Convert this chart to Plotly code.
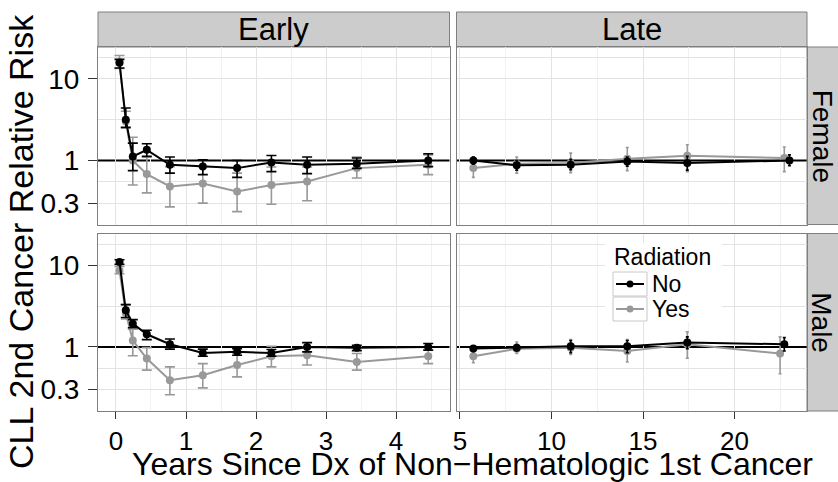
import plotly.graph_objects as go

# ---------------- data ----------------
x_early = [0.05, 0.14, 0.24, 0.44, 0.77, 1.24, 1.73, 2.22, 2.73, 3.44, 4.46]

F_early_no = [15.7, 3.16, 1.12, 1.35, 0.885, 0.84, 0.805, 0.945, 0.885, 0.91, 1.0]
F_early_no_lo = [13.6, 2.54, 0.75, 1.12, 0.70, 0.67, 0.62, 0.73, 0.69, 0.80, 0.84]
F_early_no_hi = [17.3, 4.4, 1.63, 1.6, 1.1, 1.02, 1.0, 1.15, 1.1, 1.07, 1.21]

F_early_yes = [16.0, 3.0, 1.0, 0.68, 0.48, 0.52, 0.416, 0.50, 0.552, 0.805, 0.885]
F_early_yes_lo = [13.4, 2.5, 0.50, 0.40, 0.27, 0.30, 0.236, 0.29, 0.32, 0.61, 0.67]
F_early_yes_hi = [19.3, 4.0, 1.92, 1.1, 0.84, 0.84, 0.70, 0.83, 0.83, 1.1, 1.17]

M_early_no = [11.0, 2.81, 1.93, 1.43, 1.08, 0.845, 0.87, 0.845, 1.0, 0.98, 1.0]
M_early_no_lo = [10.3, 2.29, 1.72, 1.23, 0.94, 0.77, 0.79, 0.77, 0.87, 0.90, 0.91]
M_early_no_hi = [11.7, 3.3, 2.16, 1.6, 1.25, 0.94, 0.95, 0.93, 1.13, 1.05, 1.1]

M_early_yes = [8.67, 2.6, 1.2, 0.72, 0.39, 0.45, 0.60, 0.77, 0.79, 0.655, 0.77]
M_early_yes_lo = [7.9, 2.2, 0.78, 0.52, 0.26, 0.315, 0.43, 0.57, 0.60, 0.52, 0.625]
M_early_yes_hi = [9.7, 3.3, 1.65, 0.98, 0.57, 0.625, 0.845, 1.02, 1.0, 0.83, 0.93]

x_F_late_no = [5.73, 8.10, 11.05, 14.14, 17.42, 23.0]
F_late_no = [1.0, 0.87, 0.885, 0.97, 0.93, 1.0]
F_late_no_lo = [0.90, 0.76, 0.77, 0.85, 0.76, 0.86]
F_late_no_hi = [1.1, 1.0, 1.03, 1.1, 1.12, 1.17]

x_F_late_yes = [5.73, 8.10, 11.05, 14.14, 17.42, 22.72]
F_late_yes = [0.805, 0.91, 0.93, 1.05, 1.14, 1.07]
F_late_yes_lo = [0.62, 0.70, 0.71, 0.75, 0.73, 0.73]
F_late_yes_hi = [1.04, 1.1, 1.23, 1.44, 1.56, 1.46]

x_M_late_no = [5.73, 8.10, 11.05, 14.14, 17.42, 22.72]
M_late_no = [0.954, 0.98, 1.02, 1.02, 1.13, 1.08]
M_late_no_lo = [0.88, 0.90, 0.85, 0.85, 0.95, 0.89]
M_late_no_hi = [1.03, 1.07, 1.2, 1.2, 1.33, 1.3]

x_M_late_yes = [5.73, 8.10, 11.05, 14.14, 17.42, 22.49]
M_late_yes = [0.77, 0.95, 0.98, 0.89, 1.08, 0.83]
M_late_yes_lo = [0.64, 0.83, 0.81, 0.655, 0.73, 0.47]
M_late_yes_hi = [0.89, 1.15, 1.23, 1.23, 1.53, 1.33]

y_ticks = [0.3, 1, 10]
y_tick_labels = ["0.3", "1", "10"]
y_grid = [0.3, 0.548, 3.162, 10, 18.25]   # 1 is covered by the reference line
x_ticks_early = [0, 1, 2, 3, 4]
x_minor_early = [0.5, 1.5, 2.5, 3.5, 4.5]
x_ticks_late = [5, 10, 15, 20]
x_minor_late = [7.5, 12.5, 17.5, 22.5]

legend_title = "Radiation"
series_names = ["No", "Yes"]
series_colors = {"No": "#000000", "Yes": "#999999"}

# ---------------- geometry helpers ----------------
W, H = 838, 482
def fx(px):
    return px / W
def fy(py):
    return 1 - py / H

FONT = "Liberation Sans, Arial, Helvetica, sans-serif"

fig = go.Figure()

def add_series(xv, yv, lo, hi, name, xa, ya, capw):
    col = series_colors[name]
    fig.add_trace(go.Scatter(
        x=xv, y=yv, xaxis=xa, yaxis=ya, mode="lines+markers",
        name=name, showlegend=False,
        line=dict(color=col, width=2),
        marker=dict(color=col, size=8),
        error_y=dict(type="data", symmetric=False,
                     array=[h - v for h, v in zip(hi, yv)],
                     arrayminus=[v - l for v, l in zip(yv, lo)],
                     color=col, thickness=1.6, width=capw),
        cliponaxis=False,
    ))

# gray (Yes) first so black (No) is drawn on top
add_series(x_early, F_early_yes, F_early_yes_lo, F_early_yes_hi, "Yes", "x", "y", 5)
add_series(x_early, F_early_no, F_early_no_lo, F_early_no_hi, "No", "x", "y", 5)
add_series(x_F_late_yes, F_late_yes, F_late_yes_lo, F_late_yes_hi, "Yes", "x2", "y2", 1.5)
add_series(x_F_late_no, F_late_no, F_late_no_lo, F_late_no_hi, "No", "x2", "y2", 1.5)
add_series(x_early, M_early_yes, M_early_yes_lo, M_early_yes_hi, "Yes", "x3", "y3", 5)
add_series(x_early, M_early_no, M_early_no_lo, M_early_no_hi, "No", "x3", "y3", 5)
add_series(x_M_late_yes, M_late_yes, M_late_yes_lo, M_late_yes_hi, "Yes", "x4", "y4", 1.5)
add_series(x_M_late_no, M_late_no, M_late_no_lo, M_late_no_hi, "No", "x4", "y4", 1.5)

# panel domains (pixels)
LX = (98, 449.5)
RX = (456.5, 807)
TY = (47, 224.5)
BY = (233.5, 411)

GRID = "#E3E3E3"
MINOR = "#F1F1F1"
BORDER = "#7F7F7F"
TICKSIZE = 26

def xaxis(dom, rng, ticks, minor, labels, anchor):
    return dict(
        domain=[fx(dom[0]), fx(dom[1])], range=rng, anchor=anchor,
        tickmode="array", tickvals=ticks, ticktext=[str(t) for t in ticks],
        showticklabels=labels, ticks="outside" if labels else "",
        ticklen=7, tickwidth=1, tickcolor="#333333",
        tickfont=dict(family=FONT, size=TICKSIZE, color="#000000"),
        showgrid=True, gridcolor=GRID, gridwidth=1,
        minor=dict(tickmode="array", tickvals=minor, showgrid=True, gridcolor=MINOR, gridwidth=1, ticks=""),
        showline=True, mirror=True, linecolor=BORDER, linewidth=1,
        zeroline=False, automargin=False,
    )

def yaxis(dom, labels, anchor):
    return dict(
        domain=[fy(dom[1]), fy(dom[0])], type="log", range=[-0.785, 1.39], anchor=anchor,
        tickmode="array", tickvals=y_ticks, ticktext=y_tick_labels,
        showticklabels=labels, ticks="outside" if labels else "",
        ticklen=9, tickwidth=1, tickcolor="#333333", ticklabelstandoff=3,
        tickfont=dict(family=FONT, size=TICKSIZE + 2, color="#000000"),
        showgrid=False,
        minor=dict(tickmode="array", tickvals=y_grid, showgrid=True, gridcolor=GRID, gridwidth=1, ticks=""),
        showline=True, mirror=True, linecolor=BORDER, linewidth=1,
        zeroline=False, automargin=False,
    )

rng_early = [-0.257, 4.764]
rng_late = [4.81, 23.96]

fig.update_layout(
    width=W, height=H, margin=dict(l=0, r=0, t=0, b=0, autoexpand=False),
    paper_bgcolor="white", plot_bgcolor="white",
    font=dict(family=FONT, color="#000000"),
    xaxis=xaxis(LX, rng_early, x_ticks_early, x_minor_early, False, "y"),
    xaxis2=xaxis(RX, rng_late, x_ticks_late, x_minor_late, False, "y2"),
    xaxis3=xaxis(LX, rng_early, x_ticks_early, x_minor_early, True, "y3"),
    xaxis4=xaxis(RX, rng_late, x_ticks_late, x_minor_late, True, "y4"),
    yaxis=yaxis(TY, True, "x"),
    yaxis2=yaxis(TY, False, "x2"),
    yaxis3=yaxis(BY, True, "x3"),
    yaxis4=yaxis(BY, False, "x4"),
    showlegend=False,
)

# reference line at RR = 1 in every panel
for xa, ya in [("x", "y"), ("x2", "y2"), ("x3", "y3"), ("x4", "y4")]:
    fig.add_shape(type="line", xref=f"{xa} domain", yref=ya, x0=0, x1=1, y0=1, y1=1,
                  line=dict(color="#000000", width=2), layer="below")

# strips
STRIP = "#CCCCCC"
for dom in (LX, RX):
    fig.add_shape(type="rect", xref="paper", yref="paper",
                  x0=fx(dom[0]), x1=fx(dom[1]), y0=fy(47), y1=fy(12),
                  fillcolor=STRIP, line=dict(color=BORDER, width=1), layer="below")
for dom in (TY, BY):
    fig.add_shape(type="rect", xref="paper", yref="paper",
                  x0=fx(807), x1=fx(845), y0=fy(dom[1]), y1=fy(dom[0]),
                  fillcolor=STRIP, line=dict(color=BORDER, width=1), layer="below")

fig.add_annotation(text="Early", xref="paper", yref="paper", x=fx(273.75), y=fy(29.5),
                   showarrow=False, font=dict(family=FONT, size=31), xanchor="center", yanchor="middle")
fig.add_annotation(text="Late", xref="paper", yref="paper", x=fx(631.75), y=fy(29.5),
                   showarrow=False, font=dict(family=FONT, size=31), xanchor="center", yanchor="middle")
fig.add_annotation(text="Female", xref="paper", yref="paper", x=fx(822), y=fy(135.75), textangle=90,
                   showarrow=False, font=dict(family=FONT, size=28), xanchor="center", yanchor="middle")
fig.add_annotation(text="Male", xref="paper", yref="paper", x=fx(822), y=fy(322.25), textangle=90,
                   showarrow=False, font=dict(family=FONT, size=28), xanchor="center", yanchor="middle")

# ---------------- legend (drawn inside the Male / Late panel) ----------------
fig.add_shape(type="rect", xref="paper", yref="paper", x0=fx(605), x1=fx(722), y0=fy(322), y1=fy(243),
              fillcolor="white", line=dict(width=0), layer="above")
fig.add_annotation(text=legend_title, xref="paper", yref="paper", x=fx(612), y=fy(257),
                   showarrow=False, font=dict(family=FONT, size=23), xanchor="left", yanchor="middle")
key_rows = [284, 309]
for name, ky in zip(series_names, key_rows):
    col = series_colors[name]
    fig.add_shape(type="rect", xref="paper", yref="paper", x0=fx(613), x1=fx(647),
                  y0=fy(ky + 12), y1=fy(ky - 12), fillcolor="white",
                  line=dict(color="#C8C8C8", width=1), layer="above")
    fig.add_shape(type="line", xref="paper", yref="paper", x0=fx(616), x1=fx(644),
                  y0=fy(ky), y1=fy(ky), line=dict(color=col, width=2), layer="above")
    fig.add_shape(type="circle", xref="paper", yref="paper", x0=fx(626.5), x1=fx(633.5),
                  y0=fy(ky + 3.5), y1=fy(ky - 3.5), fillcolor=col, line=dict(color=col, width=0),
                  layer="above")
    fig.add_annotation(text=name, xref="paper", yref="paper", x=fx(650), y=fy(ky),
                       showarrow=False, font=dict(family=FONT, size=23), xanchor="left", yanchor="middle")

# axis titles
fig.add_annotation(text="Years Since Dx of Non\u2212Hematologic 1st Cancer", xref="paper", yref="paper",
                   x=fx(472), y=fy(464), showarrow=False, font=dict(family=FONT, size=32),
                   xanchor="center", yanchor="middle")
fig.add_annotation(text="CLL 2nd Cancer Relative Risk", xref="paper", yref="paper",
                   x=fx(21), y=fy(242), textangle=-90, showarrow=False, font=dict(family=FONT, size=34),
                   xanchor="center", yanchor="middle")

fig.write_html("out.html", config={"displayModeBar": False},
               post_script="document.body.style.margin='0';document.body.style.padding='0';")
